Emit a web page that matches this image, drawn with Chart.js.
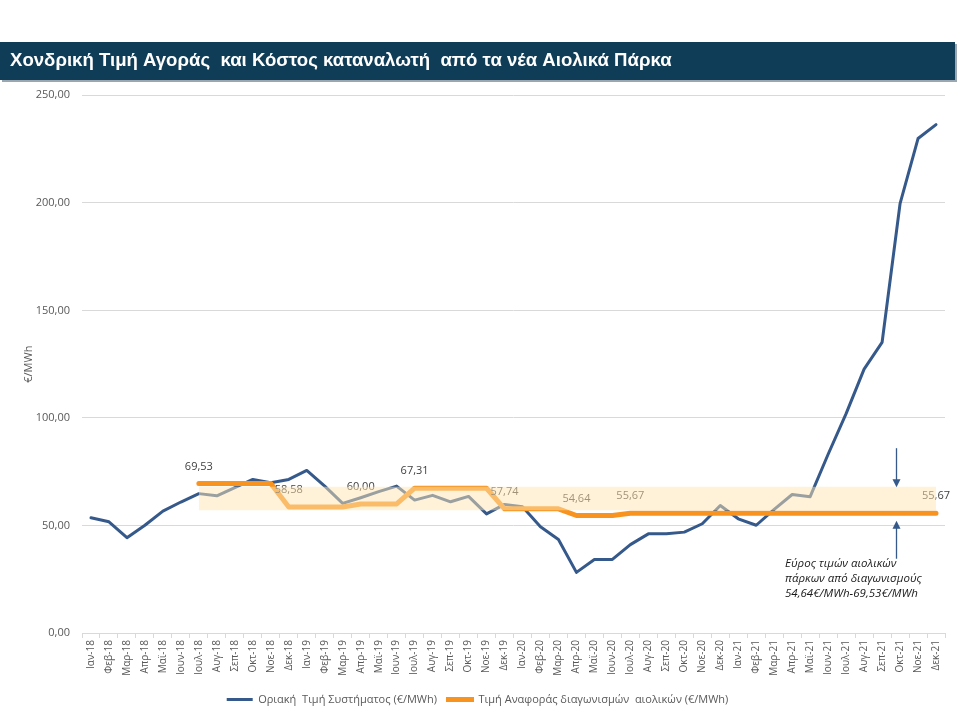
<!DOCTYPE html>
<html>
<head>
<meta charset="utf-8">
<script src="https://cdn.jsdelivr.net/npm/chart.js@4.4.0/dist/chart.umd.min.js"></script>
<style>
  html, body { margin: 0; padding: 0; background: #ffffff; }
  #wrap { width: 960px; height: 720px; position: relative; }
</style>
</head>
<body>
<div id="wrap"><canvas id="c" width="960" height="720"></canvas></div>
<script>
const titleText = "Χονδρική Τιμή Αγοράς  και Κόστος καταναλωτή  από τα νέα Αιολικά Πάρκα";
const yAxisTitle = "€/MWh";
const categories = [
  "Ιαν-18","Φεβ-18","Μαρ-18","Απρ-18","Μαϊ-18","Ιουν-18","Ιουλ-18","Αυγ-18","Σεπ-18","Οκτ-18","Νοε-18","Δεκ-18",
  "Ιαν-19","Φεβ-19","Μαρ-19","Απρ-19","Μαϊ-19","Ιουν-19","Ιουλ-19","Αυγ-19","Σεπ-19","Οκτ-19","Νοε-19","Δεκ-19",
  "Ιαν-20","Φεβ-20","Μαρ-20","Απρ-20","Μαϊ-20","Ιουν-20","Ιουλ-20","Αυγ-20","Σεπ-20","Οκτ-20","Νοε-20","Δεκ-20",
  "Ιαν-21","Φεβ-21","Μαρ-21","Απρ-21","Μαϊ-21","Ιουν-21","Ιουλ-21","Αυγ-21","Σεπ-21","Οκτ-21","Νοε-21","Δεκ-21"
];
const systemPrice = [
  53.6, 51.7, 44.3, 50.1, 56.7, 60.9, 64.8, 63.8, 67.6, 71.4, 69.9, 71.4,
  75.6, 68.3, 60.3, 62.9, 65.7, 68.3, 61.8, 64.0, 61.0, 63.5, 55.4, 59.8,
  58.7, 49.4, 43.5, 28.2, 34.2, 34.2, 41.1, 46.1, 46.1, 46.9, 50.8, 59.3,
  53.1, 50.1, 57.5, 64.4, 63.4, 83.1, 102.0, 122.7, 135.1, 199.6, 229.9, 236.4
];
const windReference = [
  null, null, null, null, null, null, 69.53, 69.53, 69.53, 69.53, 69.53, 58.58,
  58.58, 58.58, 58.58, 60.00, 60.00, 60.00, 67.31, 67.31, 67.31, 67.31, 67.31, 57.74,
  57.74, 57.74, 57.74, 54.64, 54.64, 54.64, 55.67, 55.67, 55.67, 55.67, 55.67, 55.67,
  55.67, 55.67, 55.67, 55.67, 55.67, 55.67, 55.67, 55.67, 55.67, 55.67, 55.67, 55.67
];
const bandLow = [
  null, null, null, null, null, null, 57.1, 57.1, 57.1, 57.1, 57.1, 57.1,
  57.1, 57.1, 57.1, 57.1, 57.1, 57.1, 57.1, 57.1, 57.1, 57.1, 57.1, 57.1,
  57.1, 57.1, 57.1, 57.1, 57.1, 57.1, 57.1, 57.1, 57.1, 57.1, 57.1, 57.1,
  57.1, 57.1, 57.1, 57.1, 57.1, 57.1, 57.1, 57.1, 57.1, 57.1, 57.1, 57.1
];
const bandHigh = [
  null, null, null, null, null, null, 68.0, 68.0, 68.0, 68.0, 68.0, 68.0,
  68.0, 68.0, 68.0, 68.0, 68.0, 68.0, 68.0, 68.0, 68.0, 68.0, 68.0, 68.0,
  68.0, 68.0, 68.0, 68.0, 68.0, 68.0, 68.0, 68.0, 68.0, 68.0, 68.0, 68.0,
  68.0, 68.0, 68.0, 68.0, 68.0, 68.0, 68.0, 68.0, 68.0, 68.0, 68.0, 68.0
];
const labelIndexes = [6, 11, 15, 18, 23, 27, 30, 47];
const yTicks = [0, 50, 100, 150, 200, 250];
const legendNames = ["Οριακή  Τιμή Συστήματος (€/MWh)", "Τιμή Αναφοράς διαγωνισμών  αιολικών (€/MWh)"];
const noteLines = ["Εύρος τιμών αιολικών", "πάρκων από διαγωνισμούς", "54,64€/MWh-69,53€/MWh"];

const BLUE = "#35598a";
const ORANGE = "#f7931e";
const GREY_TXT = "#595959";
const fmt = v => v.toFixed(2).replace(".", ",");

const bannerPlugin = {
  id: "banner",
  beforeDraw(chart) {
    const ctx = chart.ctx;
    ctx.save();
    ctx.fillStyle = "#9aa7b0";
    ctx.fillRect(2, 44, 955, 38);
    ctx.fillStyle = "#0f3d57";
    ctx.fillRect(0, 42, 955, 38);
    ctx.restore();
  }
};

const labelPlugin = {
  id: "valueLabels",
  afterDatasetDraw(chart, args) {
    if (args.index !== 1) return;
    const ctx = chart.ctx;
    const meta = chart.getDatasetMeta(1);
    ctx.save();
    ctx.font = "11px 'Open Sans', sans-serif";
    ctx.fillStyle = "#404040";
    ctx.textAlign = "center";
    ctx.textBaseline = "middle";
    labelIndexes.forEach(i => {
      const p = meta.data[i];
      ctx.fillText(fmt(windReference[i]), p.x, p.y - 17);
    });
    ctx.restore();
  }
};

const notePlugin = {
  id: "note",
  afterDraw(chart) {
    const ctx = chart.ctx;
    const x = chart.scales.x;
    const y = chart.scales.y;
    const ax = Math.round(x.getPixelForValue(44.8)) + 0.5;
    ctx.save();
    ctx.strokeStyle = BLUE;
    ctx.fillStyle = BLUE;
    ctx.lineWidth = 1.3;
    const t1 = y.getPixelForValue(67.8);
    ctx.beginPath(); ctx.moveTo(ax, t1 - 39); ctx.lineTo(ax, t1 - 6); ctx.stroke();
    ctx.beginPath(); ctx.moveTo(ax - 4, t1 - 8); ctx.lineTo(ax + 4, t1 - 8); ctx.lineTo(ax, t1); ctx.closePath(); ctx.fill();
    const t2 = y.getPixelForValue(52.2);
    ctx.beginPath(); ctx.moveTo(ax, t2 + 38); ctx.lineTo(ax, t2 + 6); ctx.stroke();
    ctx.beginPath(); ctx.moveTo(ax - 4, t2 + 8); ctx.lineTo(ax + 4, t2 + 8); ctx.lineTo(ax, t2); ctx.closePath(); ctx.fill();
    ctx.font = "italic 11.5px 'Open Sans', sans-serif";
    ctx.fillStyle = "#1a1a1a";
    ctx.textAlign = "left";
    ctx.textBaseline = "middle";
    noteLines.forEach((s, k) => ctx.fillText(s, 785, 564 + k * 15));
    ctx.restore();
  }
};

new Chart(document.getElementById("c"), {
  type: "line",
  data: {
    labels: categories,
    datasets: [
      { label: legendNames[0], data: systemPrice, borderColor: BLUE, backgroundColor: BLUE,
        borderWidth: 3, pointRadius: 0, tension: 0, order: 3, fill: false,
        borderJoinStyle: "round", borderCapStyle: "round" },
      { label: legendNames[1], data: windReference, borderColor: ORANGE, backgroundColor: ORANGE,
        borderWidth: 5, pointRadius: 0, tension: 0, order: 2, fill: false,
        borderJoinStyle: "round", borderCapStyle: "round" },
      { label: "bandLow", data: bandLow, borderWidth: 0, borderColor: "rgba(0,0,0,0)",
        pointRadius: 0, order: 1, fill: false },
      { label: "bandHigh", data: bandHigh, borderWidth: 0, borderColor: "rgba(0,0,0,0)",
        backgroundColor: "rgba(255,230,180,0.5)", pointRadius: 0, order: 0, fill: "-1" }
    ]
  },
  options: {
    responsive: false,
    animation: false,
    events: [],
    layout: { padding: { left: 10, right: 15, top: 0, bottom: 5 } },
    plugins: {
      tooltip: { enabled: false },
      title: {
        display: true, text: titleText, align: "start", color: "#ffffff",
        font: { family: "'Liberation Sans', Arial, sans-serif", size: 18.6, weight: "bold", lineHeight: 1.2 },
        padding: { top: 50, bottom: 23 }
      },
      legend: {
        display: true, position: "bottom",
        labels: {
          font: { family: "'Open Sans', sans-serif", size: 11 },
          color: GREY_TXT, padding: 10, boxWidth: 26, boxHeight: 3,
          generateLabels: (chart) => [0, 1].map(i => ({
            text: legendNames[i],
            fillStyle: i === 0 ? BLUE : ORANGE,
            strokeStyle: i === 0 ? BLUE : ORANGE,
            lineWidth: i === 0 ? 0 : 2,
            hidden: false, datasetIndex: i, fontColor: GREY_TXT
          }))
        }
      }
    },
    scales: {
      x: {
        type: "category", offset: true,
        grid: { display: true, drawOnChartArea: false, drawTicks: true, tickLength: 5, color: "#d9d9d9", offset: true },
        border: { display: true, color: "#d9d9d9" },
        ticks: { autoSkip: false, maxRotation: 90, minRotation: 90, color: GREY_TXT,
                 font: { family: "'Open Sans', sans-serif", size: 10 }, padding: 2 },
        afterFit: (s) => { s.height = 51; }
      },
      y: {
        min: 0, max: 250,
        afterBuildTicks: (s) => { s.ticks = yTicks.map(v => ({ value: v })); },
        grid: { color: "#d9d9d9", drawTicks: false, lineWidth: 1 },
        border: { display: false },
        ticks: { color: GREY_TXT, padding: 12, font: { family: "'Open Sans', sans-serif", size: 11 },
                 callback: (v) => fmt(v) },
        title: { display: true, text: yAxisTitle, color: GREY_TXT,
                 font: { family: "'Open Sans', sans-serif", size: 11 }, padding: { top: 12, bottom: 0 } },
        afterFit: (s) => { s.width = 72; }
      }
    }
  },
  plugins: [bannerPlugin, labelPlugin, notePlugin]
});
</script>
</body>
</html>
